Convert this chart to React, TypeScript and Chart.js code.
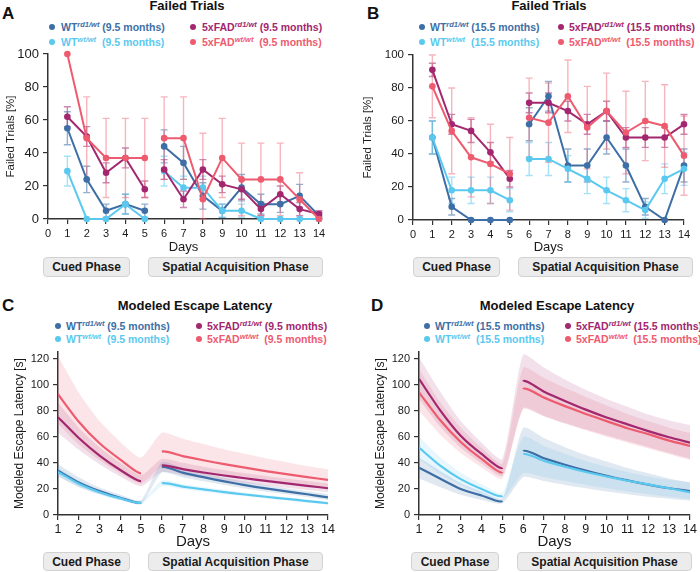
import React, { useEffect, useRef } from "react";
import { Chart, registerables } from "chart.js";

Chart.register(...registerables);

const FONT = '"Liberation Sans", Arial, Helvetica, sans-serif';
Chart.defaults.font.family = FONT;

// ---------- shared ----------
const days = [1, 2, 3, 4, 5, 6, 7, 8, 9, 10, 11, 12, 13, 14];
const seriesNames = ["WT", "WT", "5xFAD", "5xFAD"];
const seriesSup = ["rd1/wt", "wt/wt", "rd1/wt", "wt/wt"];
const seriesColors = ["#3d6fa6", "#5bc9ef", "#a2276f", "#ee5b6f"];
const errColors = ["rgba(61,111,166,0.55)", "rgba(91,201,239,0.55)", "rgba(162,39,111,0.55)", "rgba(238,91,111,0.45)"];
const bandColors = ["rgba(61,111,166,0.16)", "rgba(91,201,239,0.14)", "rgba(162,39,111,0.14)", "rgba(238,91,111,0.16)"];
const failedTicks = [0, 20, 40, 60, 80, 100];
const latencyTicks = [0, 20, 40, 60, 80, 100, 120];

// ---------- Panel A: Failed trials, 9.5 months ----------
const failA_wtRd1 = [55, 24, 5, 9, 5, 44, 34, 14, 5, 19, 9, 9, 14, 2];
const failA_wtRd1Err = [10, 8, 4, 6, 4, 10, 10, 8, 4, 8, 6, 5, 7, 2];
const failA_wtWt = [29, 0, 0, 9, 0, 29, 19, 19, 5, 5, 0, 0, 0, 0];
const failA_wtWtErr = [9, 0, 0, 6, 0, 9, 7, 7, 4, 4, 0, 0, 0, 0];
const failA_fadRd1 = [62, 50, 28, 37, 18, 30, 12, 30, 21, 18, 6, 15, 6, 3];
const failA_fadRd1Err = [6, 6, 6, 6, 5, 6, 5, 6, 5, 6, 4, 5, 4, 2];
const failA_fadWt = [100, 49, 37, 37, 37, 49, 49, 12, 37, 24, 24, 24, 12, 0];
const failA_fadWtErr = [0, 25, 24, 24, 24, 25, 25, 40, 24, 22, 22, 22, 16, 0];

// ---------- Panel B: Failed trials, 15.5 months ----------
const failB_wtRd1 = [50, 8, 0, 0, 0, 58, 75, 33, 33, 50, 33, 8, 0, 33];
const failB_wtRd1Err = [10, 5, 0, 0, 0, 10, 9, 10, 10, 10, 10, 5, 0, 10];
const failB_wtWt = [50, 18, 18, 18, 12, 37, 37, 31, 25, 18, 12, 6, 25, 31];
const failB_wtWtErr = [10, 8, 8, 8, 7, 10, 10, 8, 9, 8, 7, 5, 9, 10];
const failB_fadRd1 = [91, 58, 54, 41, 25, 71, 71, 66, 58, 66, 50, 50, 50, 58];
const failB_fadRd1Err = [4, 6, 7, 6, 5, 6, 6, 6, 6, 6, 6, 6, 6, 6];
const failB_fadWt = [81, 54, 38, 34, 28, 62, 59, 75, 56, 66, 53, 60, 57, 39];
const failB_fadWtErr = [19, 26, 24, 24, 22, 24, 24, 22, 25, 23, 25, 24, 25, 24];

// ---------- Panel C: Modeled escape latency, 9.5 months ----------
const latC_wtRd1 = [34, 25, 18.3, 13.2, 9.7, 36.6, 32.5, 29, 25.8, 22.9, 20.4, 18.1, 15.9, 13.5];
const latC_wtRd1Hi = [39, 29, 21, 15.5, 11.5, 40.5, 36, 32.3, 28.8, 25.7, 23, 20.5, 18.2, 16];
const latC_wtRd1Lo = [29.5, 21.5, 15.8, 11.5, 8.3, 32.5, 29, 25.8, 23, 20.3, 18, 15.9, 13.8, 11.5];
const latC_wtWt = [33, 24, 17.5, 12.7, 9.5, 24.3, 21.8, 19.6, 17.6, 15.7, 14, 12.4, 10.7, 9];
const latC_wtWtHi = [36.5, 26.5, 19.3, 14, 10.5, 26.5, 23.8, 21.4, 19.2, 17.2, 15.3, 13.6, 11.9, 10.2];
const latC_wtWtLo = [29.8, 21.7, 15.8, 11.5, 8.5, 22, 19.8, 17.8, 16, 14.3, 12.7, 11.2, 9.6, 8];
const latC_fadRd1 = [75, 59, 45.5, 34.5, 26, 38, 35.2, 32.6, 30.3, 28.2, 26.2, 24.3, 22.4, 20.5];
const latC_fadRd1Hi = [86, 67, 52, 40, 30.5, 43, 40, 37, 34.5, 32, 30, 28, 26, 24];
const latC_fadRd1Lo = [63, 50, 39, 29.5, 22, 33, 30.5, 28.2, 26.2, 24.4, 22.6, 20.9, 19.2, 17.5];
const latC_fadWt = [92.6, 71.5, 55, 42.5, 32, 48.6, 45.2, 42, 39, 36.3, 33.7, 31.3, 29, 27];
const latC_fadWtHi = [122, 94, 72, 56, 44, 63, 58.5, 54.5, 50.5, 47, 43.5, 40.5, 37.5, 35];
const latC_fadWtLo = [70, 54, 42, 32, 24, 37, 34.5, 32, 30, 28, 26, 24.5, 22.5, 21];

// ---------- Panel D: Modeled escape latency, 15.5 months ----------
const latD_wtRd1 = [36.3, 28, 20, 15, 10.7, 49, 43.5, 38.5, 34, 30, 26.5, 23.3, 20.5, 18.4];
const latD_wtRd1Hi = [44, 34, 24.5, 18, 12.5, 67, 59, 52, 46, 41, 36, 32, 28, 25];
const latD_wtRd1Lo = [28, 21.5, 15.5, 11.5, 9, 29, 26, 23, 20.5, 18, 16, 14, 12.5, 11];
const latD_wtWt = [51.7, 38, 27.5, 20, 14.6, 46.6, 41.5, 37, 33, 29.5, 26.3, 23.5, 20.5, 17.4];
const latD_wtWtHi = [60, 44.5, 32.5, 23.5, 17, 60, 53, 47, 41.5, 37, 33, 29.5, 27, 25];
const latD_wtWtLo = [43, 31.5, 23, 16.5, 12, 32, 29, 26, 23, 20.5, 18, 16, 14, 12];
const latD_fadRd1 = [104.4, 80.6, 60.7, 46.8, 36.3, 102.4, 94.6, 87.5, 80.8, 74.8, 69.5, 64.3, 59.6, 55.5];
const latD_fadRd1Hi = [121, 95, 72, 55.5, 43, 123, 113, 104, 96, 89, 83, 77, 72.5, 69];
const latD_fadRd1Lo = [89, 68, 51.5, 39.5, 30, 82, 76, 70.5, 65.5, 61, 56.5, 52, 47.5, 43];
const latD_fadWt = [94, 73, 56, 43, 33, 96.5, 90, 83.5, 77.5, 72, 66.5, 62, 57, 53];
const latD_fadWtHi = [112, 87, 67, 51.5, 39.5, 113, 105, 97.5, 90.5, 84, 77.5, 72, 67, 63];
const latD_fadWtLo = [80, 62, 47.5, 36.5, 28, 81, 75.5, 70, 65, 60, 55.5, 51, 46.5, 42];

// ---------- plugin: error bars ----------
const errorBarPlugin = {
  id: "errorBars",
  beforeDatasetsDraw(chart: any) {
    const { ctx, scales } = chart;
    const y = scales.y;
    ctx.save();
    chart.data.datasets.forEach((ds: any, di: number) => {
      if (!ds.errors) return;
      const meta = chart.getDatasetMeta(di);
      ctx.strokeStyle = ds.errorColor;
      ctx.lineWidth = 1.4;
      ds.data.forEach((pt: any, i: number) => {
        const e = ds.errors[i];
        if (!e) return;
        const px = meta.data[i].x;
        const top = Math.min(y.max, pt.y + e);
        const bot = Math.max(y.min, pt.y - e);
        const yt = y.getPixelForValue(top);
        const yb = y.getPixelForValue(bot);
        ctx.beginPath();
        ctx.moveTo(px, yt);
        ctx.lineTo(px, yb);
        ctx.moveTo(px - 3.5, yt);
        ctx.lineTo(px + 3.5, yt);
        ctx.moveTo(px - 3.5, yb);
        ctx.lineTo(px + 3.5, yb);
        ctx.stroke();
      });
    });
    ctx.restore();
  },
};

const gapSegment = {
  borderColor: (c: any) => (c.p0.parsed.x === 5 ? "rgba(0,0,0,0)" : undefined),
};

function toPts(vals: number[]) {
  return days.map((d, i) => ({ x: d, y: vals[i] }));
}

function axisCommon(tickSize: number, tickPad: number) {
  return {
    grid: { display: true, drawOnChartArea: false, drawTicks: true, tickLength: 5, color: "#333", lineWidth: 1.2 },
    border: { display: true, color: "#333", width: 1.5 },
    ticks: { font: { size: tickSize }, color: "#1a1a1a", padding: tickPad },
  };
}

function failedConfig(vals: number[][], errs: number[][], p: any) {
  const datasets = vals.map((v, k) => ({
    data: toPts(v),
    borderColor: seriesColors[k],
    backgroundColor: seriesColors[k],
    borderWidth: 2,
    pointRadius: 3.3,
    pointBorderWidth: 0,
    pointHoverRadius: 3.3,
    tension: 0,
    clip: false,
    order: 3 - k,
    segment: gapSegment,
    errors: errs[k],
    errorColor: errColors[k],
  }));
  const ax = axisCommon(11, 3);
  const ay = axisCommon(p.yTick, 4);
  return {
    type: "line",
    data: { datasets },
    plugins: [errorBarPlugin],
    options: {
      responsive: false,
      maintainAspectRatio: false,
      animation: false,
      events: [],
      layout: { padding: { left: 0, top: p.padTop, right: p.padRight, bottom: 0 } },
      plugins: { legend: { display: false }, tooltip: { enabled: false } },
      scales: {
        x: {
          type: "linear",
          min: 0,
          max: 14,
          ...ax,
          ticks: { ...ax.ticks, stepSize: 1, padding: 3 },
          title: { display: true, text: "Days", font: { size: 13 }, color: "#1a1a1a", padding: { top: 0, bottom: 0 } },
          afterFit: (s: any) => { s.height = p.xH; },
        },
        y: {
          type: "linear",
          min: 0,
          max: 100,
          ...ay,
          ticks: { ...ay.ticks, stepSize: 20 },
          afterBuildTicks: (s: any) => { s.ticks = failedTicks.map((v) => ({ value: v })); },
          title: { display: true, text: "Failed Trials [%]", font: { size: 11.5 }, color: "#1a1a1a", padding: { top: 4, bottom: 2 } },
          afterFit: (s: any) => { s.width = p.yW; },
        },
      },
    },
  };
}

function latencyConfig(means: number[][], his: number[][], los: number[][], p: any) {
  const lines = means.map((v, k) => ({
    data: toPts(v),
    borderColor: seriesColors[k],
    backgroundColor: seriesColors[k],
    borderWidth: 2.2,
    pointRadius: 0,
    pointHoverRadius: 0,
    tension: 0.2,
    order: 3 - k,
    fill: false,
    segment: gapSegment,
  }));
  const bands: any[] = [];
  his.forEach((hi, k) => {
    bands.push({
      data: toPts(hi),
      borderWidth: 0,
      borderColor: "rgba(0,0,0,0)",
      pointRadius: 0,
      tension: 0.2,
      fill: "+1",
      backgroundColor: bandColors[k],
      order: 10,
    });
    bands.push({
      data: toPts(los[k]),
      borderWidth: 0,
      borderColor: "rgba(0,0,0,0)",
      pointRadius: 0,
      tension: 0.2,
      fill: false,
      order: 10,
    });
  });
  const ax = axisCommon(12.5, 2);
  const ay = axisCommon(11, 4);
  return {
    type: "line",
    data: { datasets: [...lines, ...bands] },
    options: {
      responsive: false,
      maintainAspectRatio: false,
      animation: false,
      events: [],
      layout: { padding: { left: 0, top: p.padTop, right: p.padRight, bottom: 0 } },
      plugins: { legend: { display: false }, tooltip: { enabled: false } },
      scales: {
        x: {
          type: "linear",
          min: 1,
          max: 14,
          ...ax,
          ticks: { ...ax.ticks, stepSize: 1 },
          title: { display: true, text: "Days", font: { size: 15 }, color: "#1a1a1a", padding: { top: 0, bottom: 0 } },
          afterFit: (s: any) => { s.height = p.xH; },
        },
        y: {
          type: "linear",
          min: 0,
          max: 125,
          ...ay,
          afterBuildTicks: (s: any) => { s.ticks = latencyTicks.map((v) => ({ value: v })); },
          title: { display: true, text: "Modeled Escape Latency [s]", font: { size: 12 }, color: "#1a1a1a", padding: { top: 4, bottom: 2 } },
          afterFit: (s: any) => { s.width = p.yW; },
        },
      },
    },
  };
}

function ChartCanvas({ config, left, top, width, height }: any) {
  const ref = useRef<HTMLCanvasElement | null>(null);
  useEffect(() => {
    if (!ref.current) return;
    const chart = new Chart(ref.current, config);
    return () => chart.destroy();
  }, []);
  return (
    <canvas
      ref={ref}
      width={width}
      height={height}
      style={{ position: "absolute", left, top, width, height }}
    />
  );
}

function Legend({ months, c1Dot, c1Text, c2Dot, c2Text, y1, y2 }: any) {
  const rows = [
    { k: 0, dot: c1Dot, tx: c1Text, y: y1 },
    { k: 1, dot: c1Dot, tx: c1Text, y: y2 },
    { k: 2, dot: c2Dot, tx: c2Text, y: y1 },
    { k: 3, dot: c2Dot, tx: c2Text, y: y2 },
  ];
  return (
    <>
      {rows.map((r) => (
        <React.Fragment key={r.k}>
          <div
            style={{
              position: "absolute",
              left: r.dot - 3,
              top: r.y - 3,
              width: 6,
              height: 6,
              borderRadius: 3,
              background: seriesColors[r.k],
            }}
          />
          <div
            style={{
              position: "absolute",
              left: r.tx,
              top: r.y - 8,
              height: 16,
              lineHeight: "16px",
              fontSize: 10.5,
              fontWeight: "bold",
              color: seriesColors[r.k],
              whiteSpace: "pre",
            }}
          >
            {seriesNames[r.k]}
            <span style={{ fontSize: 7.5, fontStyle: "italic", position: "relative", top: -4 }}>{seriesSup[r.k]}</span>
            {seriesSup[r.k] === "wt/wt" ? "\u00a0\u00a0" : " "}
            {"(" + months + ")"}
          </div>
        </React.Fragment>
      ))}
    </>
  );
}

function Text({ x, y, w, children, size, bold, align }: any) {
  return (
    <div
      style={{
        position: "absolute",
        left: align === "center" ? x - w / 2 : x,
        top: y - size * 0.6,
        width: w,
        height: size * 1.2,
        lineHeight: size * 1.2 + "px",
        fontSize: size,
        fontWeight: bold ? "bold" : "normal",
        textAlign: align || "left",
        color: "#111",
        whiteSpace: "nowrap",
      }}
    >
      {children}
    </div>
  );
}

function PhaseBox({ x1, x2, y1, y2, label }: any) {
  return (
    <div
      style={{
        position: "absolute",
        left: x1,
        top: y1,
        width: x2 - x1,
        height: y2 - y1,
        boxSizing: "border-box",
        border: "1px solid #d2d2d2",
        borderRadius: 4,
        background: "#ececec",
        fontSize: 12,
        fontWeight: "bold",
        color: "#1a1a1a",
        display: "flex",
        alignItems: "center",
        justifyContent: "center",
      }}
    >
      {label}
    </div>
  );
}

export default function App() {
  const cfgA = failedConfig(
    [failA_wtRd1, failA_wtWt, failA_fadRd1, failA_fadWt],
    [failA_wtRd1Err, failA_wtWtErr, failA_fadRd1Err, failA_fadWtErr],
    { padTop: 14, padRight: 26, xH: 36, yW: 48, yTick: 13 }
  );
  const cfgB = failedConfig(
    [failB_wtRd1, failB_wtWt, failB_fadRd1, failB_fadWt],
    [failB_wtRd1Err, failB_wtWtErr, failB_fadRd1Err, failB_fadWtErr],
    { padTop: 15, padRight: 16, xH: 35, yW: 56, yTick: 11.5 }
  );
  const cfgC = latencyConfig(
    [latC_wtRd1, latC_wtWt, latC_fadRd1, latC_fadWt],
    [latC_wtRd1Hi, latC_wtWtHi, latC_fadRd1Hi, latC_fadWtHi],
    [latC_wtRd1Lo, latC_wtWtLo, latC_fadRd1Lo, latC_fadWtLo],
    { padTop: 12, padRight: 17, xH: 36, yW: 50 }
  );
  const cfgD = latencyConfig(
    [latD_wtRd1, latD_wtWt, latD_fadRd1, latD_fadWt],
    [latD_wtRd1Hi, latD_wtWtHi, latD_fadRd1Hi, latD_fadWtHi],
    [latD_wtRd1Lo, latD_wtWtLo, latD_fadRd1Lo, latD_fadWtLo],
    { padTop: 12, padRight: 10, xH: 36, yW: 50 }
  );

  return (
    <div
      style={{
        position: "fixed",
        left: 0,
        top: 0,
        width: 700,
        height: 572,
        background: "#fff",
        fontFamily: FONT,
        overflow: "hidden",
      }}
    >
      {/* Panel A */}
      <Text x={2} y={14} w={20} size={17} bold>A</Text>
      <Text x={187} y={6} w={200} size={13} bold align="center">Failed Trials</Text>
      <Legend months="9.5 months" c1Dot={52} c1Text={61} c2Dot={193} c2Text={202} y1={27} y2={42} />
      <ChartCanvas config={cfgA} left={0} top={40} width={345} height={215} />
      <PhaseBox x1={43} x2={130} y1={257} y2={277} label="Cued Phase" />
      <PhaseBox x1={148} x2={323} y1={257} y2={277} label="Spatial Acquisition Phase" />

      {/* Panel B */}
      <Text x={367} y={14} w={20} size={17} bold>B</Text>
      <Text x={549} y={6} w={200} size={13} bold align="center">Failed Trials</Text>
      <Legend months="15.5 months" c1Dot={422} c1Text={430} c2Dot={561} c2Text={569} y1={27} y2={42} />
      <ChartCanvas config={cfgB} left={357} top={40} width={343} height={215} />
      <PhaseBox x1={413} x2={500} y1={257} y2={277} label="Cued Phase" />
      <PhaseBox x1={518} x2={693} y1={257} y2={277} label="Spatial Acquisition Phase" />

      {/* Panel C */}
      <Text x={2} y={306} w={20} size={17} bold>C</Text>
      <Text x={195} y={306} w={260} size={13} bold align="center">Modeled Escape Latency</Text>
      <Legend months="9.5 months" c1Dot={58} c1Text={66} c2Dot={199} c2Text={207} y1={326} y2={339} />
      <ChartCanvas config={cfgC} left={8} top={340} width={337} height={211} />
      <PhaseBox x1={43} x2={130} y1={552} y2={571} label="Cued Phase" />
      <PhaseBox x1={148} x2={323} y1={552} y2={571} label="Spatial Acquisition Phase" />

      {/* Panel D */}
      <Text x={371} y={306} w={20} size={17} bold>D</Text>
      <Text x={557} y={306} w={260} size={13} bold align="center">Modeled Escape Latency</Text>
      <Legend months="15.5 months" c1Dot={427} c1Text={435} c2Dot={568} c2Text={576} y1={326} y2={339} />
      <ChartCanvas config={cfgD} left={369} top={340} width={331} height={211} />
      <PhaseBox x1={411} x2={499} y1={552} y2={571} label="Cued Phase" />
      <PhaseBox x1={517} x2={692} y1={552} y2={571} label="Spatial Acquisition Phase" />
    </div>
  );
}
